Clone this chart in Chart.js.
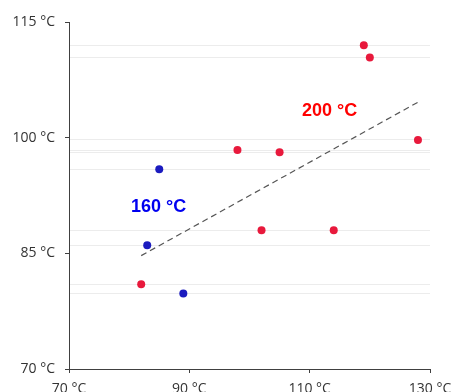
<!DOCTYPE html>
<html>
<head>
<meta charset="utf-8">
<script src="https://cdn.jsdelivr.net/npm/chart.js@4"></script>
<style>
  html, body { margin: 0; padding: 0; background: #fff; overflow: hidden; }
  #wrap { width: 454px; height: 400px; }
</style>
</head>
<body>
<div id="wrap"><canvas id="chart" width="454" height="400"></canvas></div>
<script>
// points baked at 200 °C
const redX = [82, 98, 105, 102, 114, 119, 120, 128];
const redY = [81.0, 98.4, 98.1, 88.0, 88.0, 112.0, 110.4, 99.7];
// points baked at 160 °C
const blueX = [85, 83, 89];
const blueY = [95.9, 86.05, 79.8];
// trend line end points
const trendX = [82, 128];
const trendY = [84.7, 104.6];
// axis ticks
const xTicks = [70, 90, 110, 130];
const yTicks = [70, 85, 100, 115];
// group labels
const labelText = ['200 °C', '160 °C'];
const labelX = [113.3, 84.9];
const labelY = [103.4, 91.0];
const labelColor = ['#ff0000', '#0000f0'];

const toPoints = (xs, ys) => xs.map((x, i) => ({ x: x, y: ys[i] }));
const allY = redY.concat(blueY);
const axisColor = '#404040';
const tickFont = { family: 'Open Sans', size: 14 };

const groupLabels = {
  id: 'groupLabels',
  afterDatasetsDraw(chart) {
    const ctx = chart.ctx;
    const xs = chart.scales.x;
    const ys = chart.scales.y;
    ctx.save();
    ctx.font = 'bold 18px "Liberation Sans", Arial, sans-serif';
    ctx.textAlign = 'center';
    ctx.textBaseline = 'middle';
    labelText.forEach((t, i) => {
      ctx.fillStyle = labelColor[i];
      ctx.fillText(t, xs.getPixelForValue(labelX[i]), ys.getPixelForValue(labelY[i]));
    });
    ctx.restore();
  }
};

new Chart(document.getElementById('chart'), {
  type: 'scatter',
  data: {
    datasets: [
      {
        data: toPoints(trendX, trendY),
        showLine: true,
        borderColor: '#555555',
        borderWidth: 1.2,
        borderDash: [6, 4],
        pointRadius: 0,
        fill: false,
      },
      {
        data: toPoints(redX, redY),
        backgroundColor: '#e8193c',
        borderWidth: 0,
        pointRadius: 4,
      },
      {
        data: toPoints(blueX, blueY),
        backgroundColor: '#1b1bbf',
        borderWidth: 0,
        pointRadius: 4,
      },
    ],
  },
  options: {
    responsive: false,
    animation: false,
    layout: { padding: { top: 22, right: 24, left: 0, bottom: 0 } },
    plugins: { legend: { display: false }, tooltip: { enabled: false } },
    scales: {
      x: {
        type: 'linear',
        min: 70,
        max: 130,
        afterBuildTicks: (scale) => { scale.ticks = xTicks.map(v => ({ value: v })); },
        afterFit: (scale) => {
          scale.height = 31;
          scale.paddingRight = 24;
          scale.paddingLeft = 0;
        },
        ticks: {
          color: '#333',
          font: tickFont,
          padding: 8,
          maxRotation: 0,
          autoSkip: false,
          callback: (v) => v + ' °C',
        },
        grid: { drawOnChartArea: false, tickLength: 4, tickColor: axisColor },
        border: { color: axisColor, width: 1 },
      },
      y: {
        type: 'linear',
        min: 70,
        max: 115,
        afterBuildTicks: (scale) => {
          const vals = yTicks.concat(allY).sort((a, b) => a - b);
          scale.ticks = vals.map(v => ({ value: v }));
        },
        afterFit: (scale) => { scale.width = 69; },
        ticks: {
          color: '#333',
          font: tickFont,
          padding: 10,
          autoSkip: false,
          callback: (v) => (yTicks.includes(v) ? v + ' °C' : ''),
        },
        grid: {
          tickLength: 4,
          color: (c) => (c.tick && yTicks.includes(c.tick.value) ? 'rgba(0,0,0,0)' : '#ececec'),
          tickColor: (c) => (c.tick && yTicks.includes(c.tick.value) ? axisColor : 'rgba(0,0,0,0)'),
        },
        border: { color: axisColor, width: 1 },
      },
    },
  },
  plugins: [groupLabels],
});
</script>
</body>
</html>
